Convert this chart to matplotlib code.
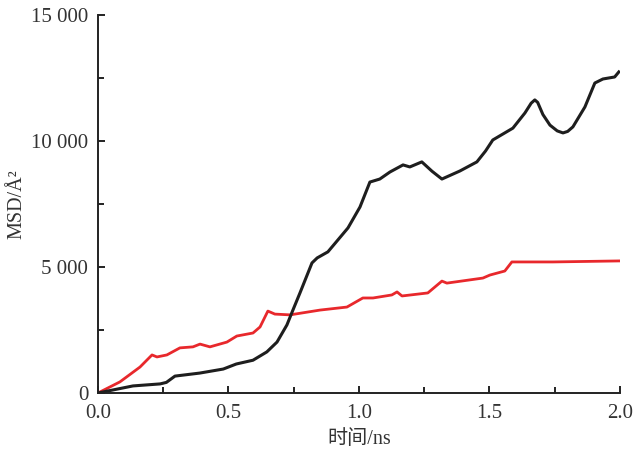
import matplotlib
matplotlib.use("Agg")
import matplotlib.pyplot as plt
from matplotlib.ticker import MultipleLocator, FuncFormatter

plt.rcParams['font.family'] = ['Liberation Serif', 'Noto Sans CJK SC']

# MSD curves (time in ns, MSD in A^2)
black_t = [0.0, 0.134, 0.238, 0.262, 0.295, 0.39, 0.48, 0.53, 0.594, 0.647, 0.686,
           0.724, 0.747, 0.774, 0.82, 0.84, 0.881, 0.958, 1.004, 1.042, 1.08, 1.119,
           1.169, 1.195, 1.241, 1.28, 1.318, 1.387, 1.452, 1.485, 1.513, 1.59, 1.636,
           1.66, 1.674, 1.685, 1.705, 1.732, 1.76, 1.782, 1.80, 1.82, 1.866, 1.904,
           1.935, 1.98, 1.996]
black_msd = [0, 280, 360, 420, 670, 790, 950, 1150, 1300, 1630, 2020,
             2700, 3290, 3970, 5160, 5360, 5600, 6550, 7380, 8370, 8490, 8770,
             9050, 8970, 9170, 8800, 8490, 8810, 9170, 9600, 10040, 10510, 11110,
             11500, 11630, 11530, 11050, 10630, 10400, 10320, 10380, 10560, 11350, 12300,
             12460, 12540, 12740]

red_t = [0.0, 0.084, 0.161, 0.207, 0.226, 0.264, 0.314, 0.364, 0.391, 0.429,
         0.494, 0.532, 0.594, 0.621, 0.651, 0.678, 0.736, 0.851, 0.954, 1.015,
         1.054, 1.126, 1.146, 1.165, 1.264, 1.318, 1.337, 1.475, 1.502, 1.559,
         1.586, 1.743, 1.996]
red_msd = [0, 440, 1030, 1510, 1430, 1510, 1790, 1830, 1940, 1830,
           2020, 2260, 2380, 2620, 3250, 3130, 3100, 3290, 3410, 3770,
           3770, 3890, 4010, 3850, 3970, 4440, 4360, 4560, 4680, 4840,
           5200, 5200, 5240]

fig = plt.figure(figsize=(6.38, 4.54), dpi=100)
ax = fig.add_axes([0.1536, 0.1344, 0.818, 0.8326])

ax.plot(red_t, red_msd, color='#e8282c', lw=2.0, solid_joinstyle='round')
ax.plot(black_t, black_msd, color='#1e1e1e', lw=2.2, solid_joinstyle='round')

ax.set_xlim(0, 2.0)
ax.set_ylim(0, 15000)
ax.xaxis.set_major_locator(MultipleLocator(0.5))
ax.xaxis.set_minor_locator(MultipleLocator(0.25))
ax.yaxis.set_major_locator(MultipleLocator(5000))
ax.yaxis.set_minor_locator(MultipleLocator(2500))
ax.xaxis.set_major_formatter(FuncFormatter(lambda v, p: f"{v:.1f}"))
ax.yaxis.set_major_formatter(FuncFormatter(lambda v, p: f"{int(v):,}".replace(",", " ")))

for side in ['top', 'right']:
    ax.spines[side].set_visible(False)
for side in ['left', 'bottom']:
    ax.spines[side].set_linewidth(1.4)
    ax.spines[side].set_color('#222222')

ax.tick_params(which='both', direction='in', width=1.4, colors='#222222',
               labelsize=15, labelcolor='#333333')
ax.tick_params(which='major', length=5)
ax.tick_params(which='minor', length=4)
ax.tick_params(axis='x', which='major', pad=8)
ax.tick_params(axis='y', which='major', pad=7)

ax.set_xlabel("时间/ns", fontsize=14.5, color='#333333', labelpad=5)
ax.set_ylabel("MSD/Å²", fontsize=14.5, color='#333333', labelpad=3)

fig.savefig("out.png", dpi=100)
